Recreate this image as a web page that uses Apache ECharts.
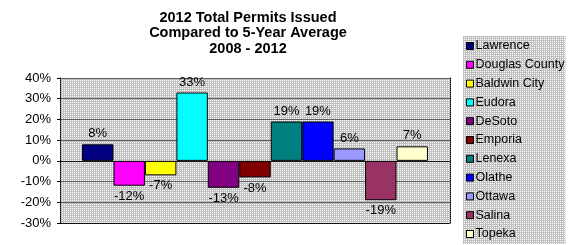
<!DOCTYPE html>
<html><head><meta charset="utf-8">
<script src="https://cdn.jsdelivr.net/npm/echarts@6/dist/echarts.min.js"></script>
<style>html,body{margin:0;padding:0;background:#fff}#c{width:576px;height:245px}</style>
</head><body><div id="c"></div>
<script>
const categories = ['2012'];
const seriesNames = ['Lawrence','Douglas County','Baldwin City','Eudora','DeSoto','Emporia','Lenexa','Olathe','Ottawa','Salina','Topeka'];
const seriesValues = [8, -12, -7, 33, -13, -8, 19, 19, 6, -19, 7];
const seriesColors = ['#000080','#ff00ff','#ffff00','#00ffff','#800080','#800000','#008080','#0000ff','#9999ff','#993366','#ffffcc'];
const yTicks = [-30, -20, -10, 0, 10, 20, 30, 40];

function makePattern(){
  const c = document.createElement('canvas'); c.width = 2; c.height = 2;
  const g = c.getContext('2d');
  g.fillStyle = '#c0c0c0'; g.fillRect(0,0,2,2);
  g.fillStyle = '#ffffff'; g.fillRect(0,0,1,1);
  return {image: c, repeat: 'repeat'};
}
const pat = makePattern();

const chart = echarts.init(document.getElementById('c'), null, {renderer:'canvas'});
const font = 'Arial, "Liberation Sans", sans-serif';
chart.setOption({
  animation: false,
  backgroundColor: '#ffffff',
  graphic: [{
    type: 'text', x: 248, y: 10, z: 10,
    style: {
      text: '2012 Total Permits Issued\nCompared to 5-Year Average\n2008 - 2012',
      font: 'bold 14.5px ' + font, fill: '#000', align: 'center', verticalAlign: 'top', lineHeight: 15.5
    }
  }],
  legend: {
    orient: 'vertical', left: 463, top: 36,
    padding: [3, 1, 3, 3],
    itemGap: 4.8,
    itemWidth: 7, itemHeight: 7,
    icon: 'rect',
    backgroundColor: pat,
    textStyle: {fontFamily: font, fontSize: 12.5, color: '#000', padding: [0,0,0,-3], lineHeight: 14},
    data: seriesNames,
    itemStyle: {borderColor: '#000', borderWidth: 1}
  },
  grid: {left: 60, right: 126, top: 78, bottom: 22, show: true, backgroundColor: pat, borderWidth: 0},
  xAxis: [{
    type: 'category', data: categories, position: 'bottom',
    axisLine: {onZero: false, lineStyle: {color: '#000', type: [1,1], width: 1}},
    axisTick: {show: false}, axisLabel: {show: false}
  }, {
    type: 'category', data: categories, position: 'top',
    axisLine: {lineStyle: {color: '#000', type: [1,1], width: 1}},
    axisTick: {show: false}, axisLabel: {show: false}
  }],
  yAxis: [{
    type: 'value', min: yTicks[0], max: yTicks[yTicks.length-1], interval: 10,
    axisLine: {show: true, lineStyle: {color: '#000', type: [1,1]}},
    axisTick: {show: true, length: 3, lineStyle: {color: '#000'}},
    axisLabel: {fontFamily: font, fontSize: 13, color: '#000', margin: 9, formatter: v => v + '%'},
    splitLine: {show: true, lineStyle: {color: '#606060', width: 1}}
  }, {
    type: 'value', min: yTicks[0], max: yTicks[yTicks.length-1], interval: 10, position: 'right',
    axisLine: {show: true, lineStyle: {color: '#000', type: [1,1]}},
    axisTick: {show: false}, axisLabel: {show: false}, splitLine: {show: false}
  }],
  series: seriesNames.map((name, i) => ({
    name, type: 'bar', barGap: '0%', barCategoryGap: '11.3%',
    itemStyle: {color: seriesColors[i], borderColor: '#000', borderWidth: 1},
    label: {
      show: true, distance: 4,
      fontFamily: font, fontSize: 13, color: '#000', formatter: p => p.value + '%'
    },
    data: [{value: seriesValues[i], label: {position: seriesValues[i] >= 0 ? 'top' : 'bottom'}}]
  }))
});
</script></body></html>
